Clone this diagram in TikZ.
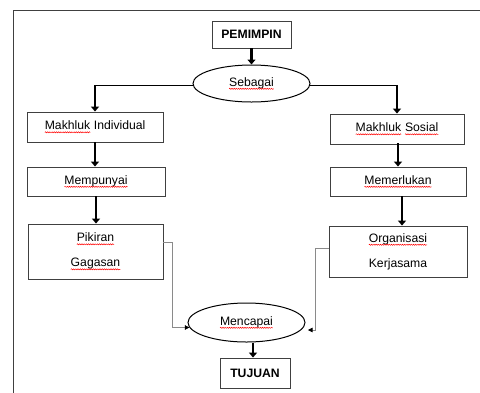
\documentclass[tikz,border=0pt]{standalone}
\usepackage{fontspec}
\setmainfont{Liberation Sans}
\usetikzlibrary{shapes.geometric,arrows.meta,decorations.pathmorphing,calc}
\definecolor{frame}{HTML}{404040}
\definecolor{thinc}{HTML}{8A8A8A}
\tikzset{sqword/.style={shape=rectangle,draw=none,fill=none,inner sep=0pt,outer sep=0pt,minimum width=0pt,minimum height=0pt,align=left}}
\newcommand\sq[1]{\tikz[baseline=(sqw.base),x=1pt,y=1pt]{\node[sqword](sqw){#1};\draw[red,line width=0.5pt,decorate,decoration={snake,amplitude=0.55pt,segment length=2.2pt}]([yshift=-2.6pt]sqw.base west)--([yshift=-2.6pt]sqw.base east);}}
\tikzset{
  box/.style={draw=frame,line width=0.9pt,rectangle,inner sep=2pt,font=\fontsize{12.2}{14}\selectfont,align=center},
  oval/.style={draw=black,line width=1pt,ellipse,inner sep=0pt,font=\fontsize{12.2}{14}\selectfont},
  bigarrow/.style={draw=black,line width=2.8pt,-{Triangle[width=8pt,length=5pt]}},
  branch/.style={draw=black,line width=1.1pt,line cap=rect},
  thinlink/.style={draw=thinc,line width=0.6pt,-{Triangle[width=4.5pt,length=4.5pt,color=black]}},
}
\begin{document}
\begin{tikzpicture}[x=1pt,y=-1pt]
\useasboundingbox (0,0) rectangle (480,392);
\clip (0,0) rectangle (480,392);
\draw[frame,line width=1pt] (13,400) -- (13,10) -- (490,10);

\node[box,minimum width=79pt,minimum height=27pt,font=\fontsize{12.2}{14}\selectfont\bfseries] (pem) at (251.5,34.5) {PEMIMPIN};
\node[oval,minimum width=117pt,minimum height=37pt] (seb) at (251.5,83.5) {\sq{Sebagai}};
\node[box,minimum width=136pt,minimum height=30pt] (mi) at (95,127) {\sq{Makhluk} Individual};
\node[box,minimum width=134pt,minimum height=30pt] (ms) at (397,129) {\sq{Makhluk} \sq{Sosial}};
\node[box,minimum width=138pt,minimum height=29pt] (mp) at (96,181.5) {\sq{Mempunyai}};
\node[box,minimum width=136pt,minimum height=29pt] (mr) at (398,181.5) {\sq{Memerlukan}};
\node[box,minimum width=135pt,minimum height=55pt] (pk) at (95.5,251.5) {\sq{Pikiran}\\[11pt]\sq{Gagasan}};
\node[box,minimum width=138pt,minimum height=51pt] (org) at (398,251.5) {\sq{Organisasi}\\[11pt]Kerjasama};
\node[oval,minimum width=117pt,minimum height=39pt] (mc) at (246.5,322.5) {\sq{Mencapai}};
\node[box,minimum width=70pt,minimum height=30pt,font=\fontsize{12.2}{14}\selectfont\bfseries] (tj) at (255,373) {TUJUAN};

\coordinate (mcR) at (308,330);

% top
\draw[bigarrow] (pem.south) -- (seb.north);
\draw[branch] ([yshift=-2pt]seb.west) -- ([yshift=-2pt]seb.west -| mi.north);
\draw[bigarrow] ([yshift=-2pt]seb.west -| mi.north) -- (mi.north);
\draw[branch] ([yshift=-2pt]seb.east) -- ([yshift=-2pt]seb.east -| ms.north);
\draw[bigarrow] ([yshift=-2pt]seb.east -| ms.north) -- (ms.north);
% columns
\draw[bigarrow] (mi.south) -- (mi.south |- mp.north);
\draw[bigarrow] (mp.south) -- (mp.south |- pk.north);
\draw[bigarrow] (ms.south) -- (ms.south -| mr.north) -- (mr.north);
\draw[bigarrow] ([xshift=4pt]mr.south) -- ([xshift=4pt]mr.south |- org.north);
% thin links
\draw[thinlink] ($(pk.north east)!0.33!(pk.south east)$) -| ($(mc.185)+(-17pt,0)$) -- (mc.185);
\draw[thinlink] ($(org.north west)!0.43!(org.south west)$) -| ($(mcR)+(7pt,0)$) -- (mcR);
% bottom
\draw[bigarrow] ([xshift=6.5pt]mc.south) -- ([xshift=6.5pt]mc.south |- tj.north);
\end{tikzpicture}
\end{document}
